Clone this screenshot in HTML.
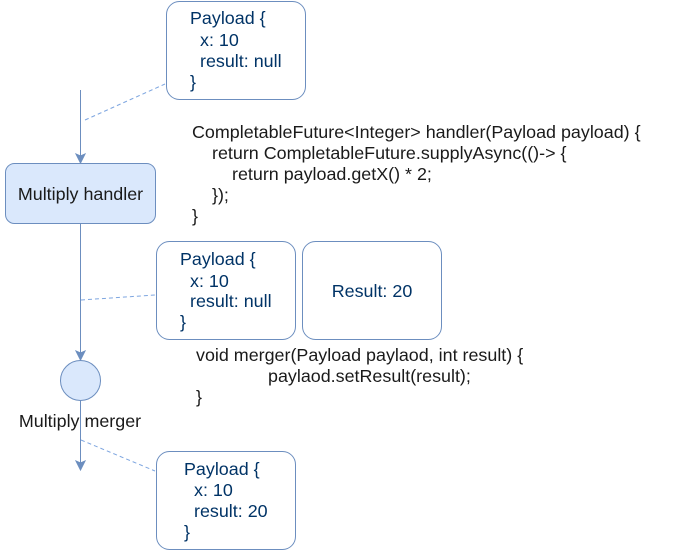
<!DOCTYPE html>
<html><head><meta charset="utf-8"><style>
html,body{margin:0;padding:0;background:#fff;}
svg{display:block;font-family:"Liberation Sans",sans-serif;font-size:17.9px;}
.b{fill:#003366}
.k{fill:#1a1a1a}
</style></head><body>
<svg width="681" height="551" viewBox="0 0 681 551" xmlns="http://www.w3.org/2000/svg">
<g stroke="#6c8ebf" fill="none">
<line x1="80.5" y1="90" x2="80.5" y2="162"/>
<path d="M76,154 L80.5,163 L85,154 L80.5,156 Z" fill="#6c8ebf"/>
<line x1="80.5" y1="223" x2="80.5" y2="359"/>
<path d="M76,351 L80.5,360 L85,351 L80.5,353 Z" fill="#6c8ebf"/>
<line x1="80.5" y1="400" x2="80.5" y2="469"/>
<path d="M76,461 L80.5,470 L85,461 L80.5,463 Z" fill="#6c8ebf"/>
<g stroke-dasharray="4 3" stroke="#7ea6e0">
<line x1="85" y1="120" x2="165" y2="84"/>
<line x1="81" y1="300" x2="155" y2="295"/>
<line x1="81" y1="440" x2="155" y2="471"/>
</g>
<rect x="166.5" y="1.5" width="139" height="98" rx="13"/>
<rect x="5.5" y="163.5" width="150" height="60" rx="9" fill="#dae8fc"/>
<rect x="156.5" y="241.5" width="139" height="98" rx="13"/>
<rect x="302.5" y="241.5" width="139" height="98" rx="13"/>
<circle cx="80.5" cy="380.5" r="20" fill="#dae8fc"/>
<rect x="156.5" y="451.5" width="139" height="98" rx="13"/>
</g>
<text class="b" x="190" y="24">Payload {</text>
<text class="b" x="200" y="46">x: 10</text>
<text class="b" x="200" y="67">result: null</text>
<text class="b" x="190" y="88">}</text>
<text class="k" x="80.5" y="200" text-anchor="middle">Multiply handler</text>
<text class="k" x="192" y="138">CompletableFuture&lt;Integer&gt; handler(Payload payload) {</text>
<text class="k" x="212" y="159">return CompletableFuture.supplyAsync(()-&gt; {</text>
<text class="k" x="232" y="180">return payload.getX() * 2;</text>
<text class="k" x="212" y="201">});</text>
<text class="k" x="192" y="222">}</text>
<text class="b" x="180" y="265">Payload {</text>
<text class="b" x="190" y="287">x: 10</text>
<text class="b" x="190" y="307">result: null</text>
<text class="b" x="180" y="328">}</text>
<text class="b" x="372" y="297" text-anchor="middle">Result: 20</text>
<text class="k" x="196" y="361">void merger(Payload paylaod, int result) {</text>
<text class="k" x="268" y="382">paylaod.setResult(result);</text>
<text class="k" x="196" y="403">}</text>
<text class="k" x="80" y="427" text-anchor="middle">Multiply merger</text>
<text class="b" x="184" y="475">Payload {</text>
<text class="b" x="194" y="496">x: 10</text>
<text class="b" x="194" y="517">result: 20</text>
<text class="b" x="184" y="538">}</text>
</svg>
</body></html>
